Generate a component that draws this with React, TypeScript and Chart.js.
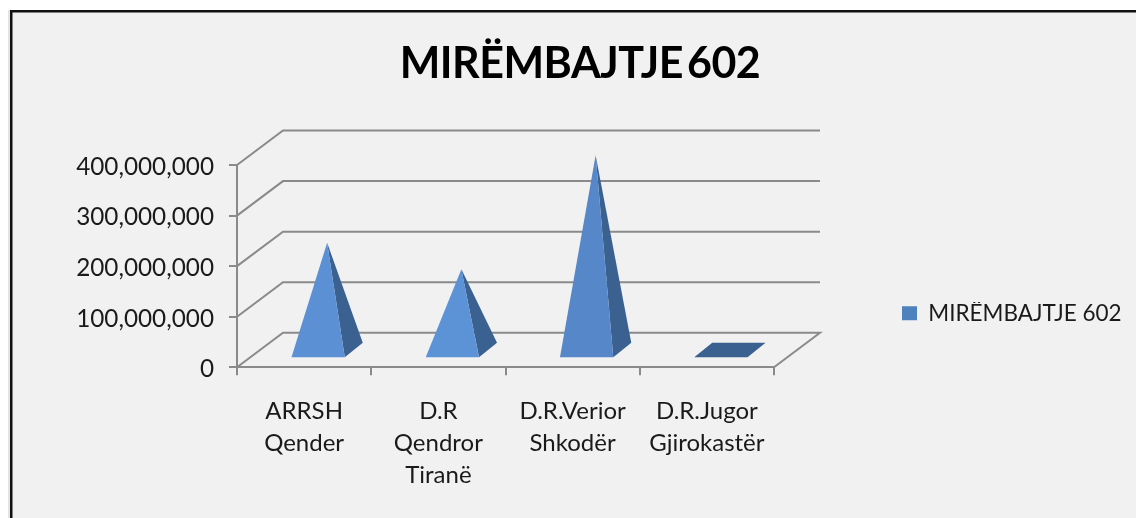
import React, { useEffect, useRef } from "react";
import { Chart, registerables } from "chart.js";

Chart.register(...registerables);

const categories = [
  ["ARRSH", "Qender"],
  ["D.R", "Qendror", "Tiranë"],
  ["D.R.Verior", "Shkodër"],
  ["D.R.Jugor", "Gjirokastër"],
];
const seriesName = "MIRËMBAJTJE 602";
const seriesValues = [212000000, 160000000, 385000000, 0];

const FONT = "Lato";
const WALL_DX = 46;
const WALL_DY = 34.5;
const BASE_DX = 18;
const BASE_DY = 14.6;
const LINE = "#8a8a8a";
const LINE_W = 2;
const FACE = ["#5B90D4", "#5C92D6", "#5587C9", "#5B90D4"];
const SIDE = "#3A618F";

const scene = {
  id: "scene",
  beforeLayout(chart: any) {
    const l = chart.legend;
    if (l && !l.__wrapped) {
      l.__wrapped = true;
      const fit = l.fit.bind(l);
      l.fit = () => {
        fit();
        l.width = 362;
      };
    }
    const t = chart.titleBlock;
    if (t && !t.__wrapped) {
      t.__wrapped = true;
      const draw = t.draw.bind(t);
      t.draw = (...a: any[]) => {
        const c = chart.ctx;
        c.save();
        c.letterSpacing = "-0.5px";
        c.wordSpacing = "-6px";
        draw(...a);
        c.restore();
      };
    }
  },
  afterLayout(chart: any) {
    const l = chart.legend;
    l.left = 902 - l.options.labels.padding;
    l.right = l.left + 230;
    l.top = 302 - l.options.labels.padding;
    l.bottom = l.top + 40;
    l.adjustHitBoxes();
  },
  beforeDraw(chart: any) {
    const c = chart.ctx;
    c.save();
    c.fillStyle = "#ffffff";
    c.fillRect(0, 0, 1136, 518);
    c.fillStyle = "#e4e4e4";
    c.fillRect(8, 10, 2, 508);
    c.fillStyle = "#f1f1f1";
    c.fillRect(12, 12, 1124, 506);
    c.fillStyle = "#111111";
    c.fillRect(10, 10, 1126, 2.5);
    c.fillRect(10, 10, 2.5, 508);
    c.restore();
  },
  beforeDatasetsDraw(chart: any) {
    const c = chart.ctx;
    const y = chart.scales.y;
    const { left, right } = chart.chartArea;
    c.save();
    c.strokeStyle = LINE;
    c.lineWidth = LINE_W;
    y.ticks.forEach((t: any) => {
      const py = y.getPixelForValue(t.value);
      c.beginPath();
      c.moveTo(left, py);
      c.lineTo(left + WALL_DX, py - WALL_DY);
      c.lineTo(right + WALL_DX, py - WALL_DY);
      if (t.value === 0) c.lineTo(right, py);
      c.stroke();
    });
    c.restore();
  },
  beforeDatasetDraw(chart: any) {
    const c = chart.ctx;
    const meta = chart.getDatasetMeta(0);
    const y0 = chart.scales.y.getPixelForValue(0);
    meta.data.forEach((el: any, i: number) => {
      const cx = el.x + WALL_DX / 2;
      const cy = y0 - WALL_DY / 2;
      const hw = el.width / 2;
      const fl = [cx - hw - BASE_DX / 2, cy + BASE_DY / 2];
      const fr = [cx + hw - BASE_DX / 2, cy + BASE_DY / 2];
      const br = [cx + hw + BASE_DX / 2, cy - BASE_DY / 2];
      const bl = [cx - hw + BASE_DX / 2, cy - BASE_DY / 2];
      const apex = [cx, el.y - WALL_DY / 2];
      const poly = (pts: number[][], col: string) => {
        c.beginPath();
        pts.forEach((p, k) => (k ? c.lineTo(p[0], p[1]) : c.moveTo(p[0], p[1])));
        c.closePath();
        c.fillStyle = col;
        c.fill();
      };
      if (seriesValues[i] === 0) {
        poly([fl, fr, br, bl], SIDE);
      } else {
        poly([fr, br, apex], SIDE);
        poly([fl, fr, apex], FACE[i]);
      }
    });
    return false;
  },
};

export default function App() {
  const ref = useRef<HTMLCanvasElement>(null);
  useEffect(() => {
    const chart = new Chart(ref.current as HTMLCanvasElement, {
      type: "bar",
      data: {
        labels: categories as any,
        datasets: [
          {
            label: seriesName,
            data: seriesValues,
            backgroundColor: "#4F81BD",
            categoryPercentage: 1,
            barPercentage: 0.397,
          },
        ],
      },
      plugins: [scene as any],
      options: {
        animation: false,
        responsive: false,
        layout: { padding: { left: 24, top: 0, right: 0, bottom: 0 } },
        plugins: {
          tooltip: { enabled: false },
          title: {
            display: true,
            text: seriesName,
            color: "#000000",
            font: { family: FONT, size: 43, weight: "bold" },
            padding: { top: 38, bottom: 75.4 },
          },
          legend: {
            position: "right",
            align: "start",
            labels: {
              color: "#1a1a1a",
              boxWidth: 15,
              boxHeight: 14,
              padding: 0,
              font: { family: FONT, size: 22.5 },
            },
          },
        },
        scales: {
          x: {
            afterFit: (s: any) => {
              s.height = 150.7;
            },
            border: { display: true, color: LINE, width: LINE_W },
            grid: { drawOnChartArea: false, drawTicks: true, tickLength: 8, color: LINE, lineWidth: LINE_W },
            ticks: {
              color: "#1a1a1a",
              padding: 20,
              maxRotation: 0,
              autoSkip: false,
              font: { family: FONT, size: 24, lineHeight: 32 / 24 },
            },
          },
          y: {
            min: 0,
            max: 400000000,
            afterFit: (s: any) => {
              s.width = 213;
            },
            border: { display: true, color: LINE, width: LINE_W },
            grid: { drawOnChartArea: false, drawTicks: true, tickLength: 8, color: LINE, lineWidth: LINE_W },
            ticks: {
              stepSize: 100000000,
              color: "#1a1a1a",
              padding: 15,
              labelOffset: 2,
              font: { family: FONT, size: 24.3 },
              callback: (v: any) => Number(v).toLocaleString("en-US"),
            },
          },
        },
      } as any,
    });
    return () => chart.destroy();
  }, []);
  return (
    <div style={{ position: "fixed", left: 0, top: 0, width: 1136, height: 518 }}>
      <canvas ref={ref} width={1136} height={518} style={{ display: "block", filter: "blur(0.4px)" }} />
    </div>
  );
}
